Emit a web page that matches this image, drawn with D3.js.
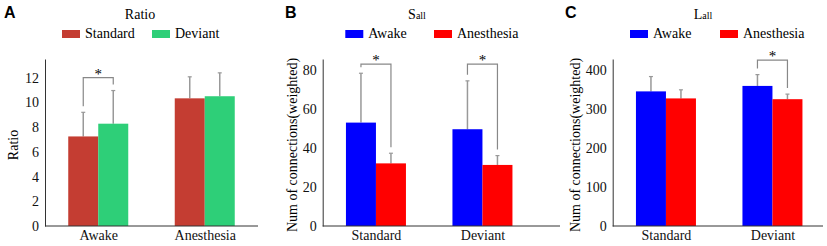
<!DOCTYPE html>
<html>
<head>
<meta charset="utf-8">
<script src="https://cdn.jsdelivr.net/npm/d3@7"></script>
<style>
  body { margin: 0; background: #fff; }
</style>
</head>
<body>
<div id="chart-area"></div>
<script>
// data
var ratioGroups = ["Awake", "Anesthesia"];
var ratioSeries = ["Standard", "Deviant"];
var ratioStandard = [7.24, 10.32];
var ratioStandardErr = [1.95, 1.74];
var ratioDeviant = [8.27, 10.49];
var ratioDeviantErr = [2.68, 1.89];
var ratioTicks = [0, 2, 4, 6, 8, 10, 12];

var sallGroups = ["Standard", "Deviant"];
var sallSeries = ["Awake", "Anesthesia"];
var sallAwake = [53.0, 49.6];
var sallAwakeErr = [25.3, 24.8];
var sallAnes = [32.1, 31.3];
var sallAnesErr = [5.2, 4.8];
var sallTicks = [0, 20, 40, 60, 80];

var lallGroups = ["Standard", "Deviant"];
var lallSeries = ["Awake", "Anesthesia"];
var lallAwake = [345, 359];
var lallAwakeErr = [38, 29];
var lallAnes = [327, 325];
var lallAnesErr = [22, 13];
var lallTicks = [0, 100, 200, 300, 400];

var serif = "Tinos, 'Liberation Serif', 'Times New Roman', Times, 'Nimbus Roman', 'Noto Serif', FreeSerif, 'DejaVu Serif', serif";

var svg = d3.select("#chart-area")
  .append("svg")
  .attr("width", 827)
  .attr("height", 246)
  .attr("font-family", serif);

var baseY = 226;
var topY = 59;

var panels = [
  {
    letter: "A", letterX: 4, title: ["Ratio"], titleX: 140,
    groups: ratioGroups, series: ratioSeries,
    values: [ratioStandard, ratioDeviant], errs: [ratioStandardErr, ratioDeviantErr],
    colors: ["#c43d32", "#2ecf78"], ticks: ratioTicks, yMax: 13.5,
    axisX: 45, axisEnd: 258, yLabel: "Ratio", yLabelX: 17.5,
    legendX: [62, 152], sig: [0], sigLevel: [12.0]
  },
  {
    letter: "B", letterX: 285, title: ["S", "all"], titleX: 417,
    groups: sallGroups, series: sallSeries,
    values: [sallAwake, sallAnes], errs: [sallAwakeErr, sallAnesErr],
    colors: ["#0000ff", "#ff0000"], ticks: sallTicks, yMax: 85.6,
    axisX: 322.7, axisEnd: 560, yLabel: "Num of connections(weighted)", yLabelX: 296.5,
    legendX: [345.3, 434], sig: [0, 1], sigLevel: [83, 83]
  },
  {
    letter: "C", letterX: 565, title: ["L", "all"], titleX: 703,
    groups: lallGroups, series: lallSeries,
    values: [lallAwake, lallAnes], errs: [lallAwakeErr, lallAnesErr],
    colors: ["#0000ff", "#ff0000"], ticks: lallTicks, yMax: 428,
    axisX: 612.7, axisEnd: 823, yLabel: "Num of connections(weighted)", yLabelX: 580,
    legendX: [630, 720], sig: [1], sigLevel: [425]
  }
];

panels.forEach(function(p) {
  var g = svg.append("g");

  // panel letter
  g.append("text")
    .attr("x", p.letterX)
    .attr("y", 18)
    .attr("font-family", "'Liberation Sans', Arial, sans-serif")
    .attr("font-weight", "bold")
    .attr("font-size", "16px")
    .text(p.letter);

  // title
  var t = g.append("text")
    .attr("x", p.titleX)
    .attr("y", 18.5)
    .attr("text-anchor", "middle")
    .attr("font-size", "14px");
  t.append("tspan").text(p.title[0]);
  if (p.title.length > 1) {
    t.append("tspan").attr("font-size", "10px").text(p.title[1]);
  }

  // legend
  p.series.forEach(function(s, i) {
    g.append("rect")
      .attr("x", p.legendX[i])
      .attr("y", 30)
      .attr("width", 18)
      .attr("height", 8)
      .attr("fill", p.colors[i]);
    g.append("text")
      .attr("x", p.legendX[i] + 23)
      .attr("y", 38)
      .attr("font-size", "14px")
      .text(s);
  });

  // scales
  var x = d3.scalePoint()
    .domain(p.groups)
    .range([p.axisX, p.axisX + 213])
    .padding(0.5);

  var xs = d3.scaleBand()
    .domain(p.series)
    .range([-30, 30]);

  var y = d3.scaleLinear()
    .domain([0, p.yMax])
    .range([baseY, topY]);

  // bars
  p.series.forEach(function(s, si) {
    p.groups.forEach(function(grp, gi) {
      var v = p.values[si][gi];
      var e = p.errs[si][gi];
      var cx = x(grp) + xs(s) + xs.bandwidth() / 2;

      // error bar
      g.append("line")
        .attr("x1", cx).attr("x2", cx)
        .attr("y1", y(v)).attr("y2", y(v + e))
        .attr("stroke", "#999")
        .attr("stroke-width", 1.5);
      g.append("line")
        .attr("x1", cx - 2).attr("x2", cx + 2)
        .attr("y1", y(v + e)).attr("y2", y(v + e))
        .attr("stroke", "#999")
        .attr("stroke-width", 1.2);

      g.append("rect")
        .attr("x", x(grp) + xs(s))
        .attr("y", y(v))
        .attr("width", xs.bandwidth())
        .attr("height", baseY - y(v))
        .attr("fill", p.colors[si]);
    });
  });

  // significance brackets
  p.sig.forEach(function(gi, k) {
    var grp = p.groups[gi];
    var by = y(p.sigLevel[k]);
    var x1 = x(grp) + xs(p.series[0]) + xs.bandwidth() / 2;
    var x2 = x(grp) + xs(p.series[1]) + xs.bandwidth() / 2;
    var e1 = y(p.values[0][gi] + p.errs[0][gi]) - 6;
    var e2 = y(p.values[1][gi] + p.errs[1][gi]) - 6;
    g.append("path")
      .attr("d", "M" + x1 + "," + e1 + "V" + by + "H" + x2 + "V" + e2)
      .attr("fill", "none")
      .attr("stroke", "#888")
      .attr("stroke-width", 1.2);
    g.append("text")
      .attr("x", (x1 + x2) / 2)
      .attr("y", by + 1)
      .attr("text-anchor", "middle")
      .attr("font-size", "15px")
      .text("*");
  });

  // left axis
  var yAxis = d3.axisLeft(y)
    .tickValues(p.ticks)
    .tickSize(0)
    .tickPadding(6)
    .tickSizeOuter(0);
  var ya = g.append("g")
    .attr("transform", "translate(" + p.axisX + ",0)")
    .call(yAxis)
    .attr("font-family", serif)
    .attr("font-size", 14);
  ya.select(".domain").attr("stroke", "#333");
  ya.selectAll("text").attr("fill", "#111");

  // bottom axis
  var xAxis = d3.axisBottom(x)
    .tickSize(0)
    .tickPadding(4);
  var xa = g.append("g")
    .attr("transform", "translate(0," + baseY + ")")
    .call(xAxis)
    .attr("font-family", serif)
    .attr("font-size", 14);
  xa.select(".domain").remove();
  xa.selectAll("text").attr("fill", "#111");
  g.append("line")
    .attr("x1", p.axisX).attr("x2", p.axisEnd)
    .attr("y1", baseY).attr("y2", baseY)
    .attr("stroke", "#333");

  // y label
  g.append("text")
    .attr("transform", "translate(" + p.yLabelX + "," + 145 + ") rotate(-90)")
    .attr("text-anchor", "middle")
    .attr("font-size", "14px")
    .text(p.yLabel);
});
</script>
</body>
</html>
